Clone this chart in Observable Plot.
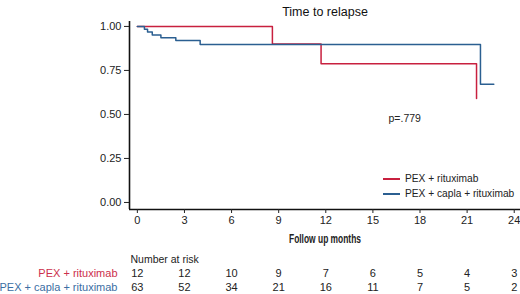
<!DOCTYPE html>
<html>
<head>
<meta charset="utf-8">
<script src="https://cdn.jsdelivr.net/npm/d3@7"></script>
<script src="https://cdn.jsdelivr.net/npm/@observablehq/plot@0.6"></script>
<style>
  html, body { margin: 0; padding: 0; background: #fff; }
  #wrap { position: relative; width: 520px; height: 294px; font-family: "Liberation Sans", Arial, sans-serif; }
  #wrap svg { display: block; }
  .legend { position: absolute; left: 383px; top: 171px; font-size: 10.2px; color: #222; line-height: 15px; }
  .legend .item { display: flex; align-items: center; white-space: nowrap; }
  .legend .sw { display: inline-block; width: 17px; height: 2px; margin-right: 5px; }
</style>
</head>
<body>
<div id="wrap"></div>
<script>
// ---- data ----
const groups = ["PEX + rituximab", "PEX + capla + rituximab"];
const colors = ["#c8203f", "#2b5f91"];
const labelColors = ["#cc2f4c", "#3b6ea3"];

const redTimes = [0, 8.6, 11.7, 21.6];
const redSurv  = [1.0, 0.9, 0.7875, 0.59];

const blueTimes = [0, 0.45, 0.65, 0.95, 1.5, 2.45, 4.0, 21.85, 22.7];
const blueSurv  = [1.0, 0.984, 0.968, 0.952, 0.936, 0.920, 0.897, 0.672, 0.672];

const riskTimes = [0, 3, 6, 9, 12, 15, 18, 21, 24];
const riskRed   = [12, 12, 10, 9, 7, 6, 5, 4, 3];
const riskBlue  = [63, 52, 34, 21, 16, 11, 7, 5, 2];

const xTicks = [0, 3, 6, 9, 12, 15, 18, 21, 24];
const yTicks = [0, 0.25, 0.5, 0.75, 1];

const title = "Time to relapse";
const xLabel = "Follow up months";
const pLabel = "p=.779";
const riskHeader = "Number at risk";

// ---- build tables ----
const redData = redTimes.map((t, i) => ({t, s: redSurv[i]}));
const blueData = blueTimes.map((t, i) => ({t, s: blueSurv[i]}));
const riskData = [
  ...riskTimes.map((t, i) => ({t, n: riskRed[i], g: groups[0]})),
  ...riskTimes.map((t, i) => ({t, n: riskBlue[i], g: groups[1]}))
];

const xDomain = [-0.5, 24.4];
const yDomain = [-0.04, 1.028];
const font = "'Liberation Sans', Arial, sans-serif";

const main = Plot.plot({
  width: 520, height: 250,
  marginLeft: 129, marginRight: 0, marginTop: 21, marginBottom: 41,
  style: {fontFamily: font, fontSize: "11px", color: "#222", background: "white", overflow: "visible"},
  x: {domain: xDomain},
  y: {domain: yDomain},
  marks: [
    Plot.ruleX([xDomain[0]], {stroke: "#111", strokeWidth: 1.6}),
    Plot.ruleY([yDomain[0]], {stroke: "#111", strokeWidth: 1.6}),
    Plot.axisX({ticks: xTicks, tickSize: 4, tickPadding: 3, tickFormat: d => d, label: null, fontSize: 11}),
    Plot.axisY({ticks: yTicks, tickSize: 5, tickPadding: 3, tickFormat: d3.format(".2f"), label: null, fontSize: 11}),
    Plot.line(redData, {x: "t", y: "s", curve: "step-after", stroke: colors[0], strokeWidth: 1.5}),
    Plot.line(blueData, {x: "t", y: "s", curve: "step-after", stroke: colors[1], strokeWidth: 1.5}),
    Plot.text([title], {frameAnchor: "top", dy: -14, fontSize: 12.5, fill: "#111"}),
    Plot.text([xLabel], {frameAnchor: "bottom", dy: 33, fontSize: 12, fontWeight: "bold", fill: "#222", className: "xlab"}),
    Plot.text([pLabel], {frameAnchor: "top-left", dx: 259, dy: 93, textAnchor: "start", fontSize: 10.5, fill: "#222"})
  ]
});

// condense the axis title like the reference's narrow font
main.querySelectorAll("text").forEach(t => {
  if (t.textContent === xLabel) {
    t.setAttribute("textLength", "72");
    t.setAttribute("lengthAdjust", "spacingAndGlyphs");
  }
});

const risk = Plot.plot({
  width: 520, height: 44,
  marginLeft: 129, marginRight: 0, marginTop: 8, marginBottom: 7,
  style: {fontFamily: font, fontSize: "11px", color: "#222", background: "white", overflow: "visible"},
  x: {domain: xDomain, axis: null},
  y: {type: "point", domain: [riskHeader, ...groups], padding: 0, axis: null},
  marks: [
    Plot.text([riskHeader], {y: d => d, text: d => d, frameAnchor: "left", textAnchor: "start", dx: 1, fill: "#222", fontSize: 10.5}),
    Plot.text(groups, {y: d => d, text: d => d, frameAnchor: "left", textAnchor: "end", dx: -12, fill: (d, i) => labelColors[i]}),
    Plot.text(riskData, {x: "t", y: "g", text: "n", fill: "#222"})
  ]
});

const wrap = document.getElementById("wrap");
wrap.appendChild(main);
wrap.appendChild(risk);

const legend = document.createElement("div");
legend.className = "legend";
groups.forEach((g, i) => {
  const item = document.createElement("div");
  item.className = "item";
  const sw = document.createElement("span");
  sw.className = "sw";
  sw.style.background = colors[i];
  item.appendChild(sw);
  item.appendChild(document.createTextNode(g));
  legend.appendChild(item);
});
wrap.appendChild(legend);
</script>
</body>
</html>
